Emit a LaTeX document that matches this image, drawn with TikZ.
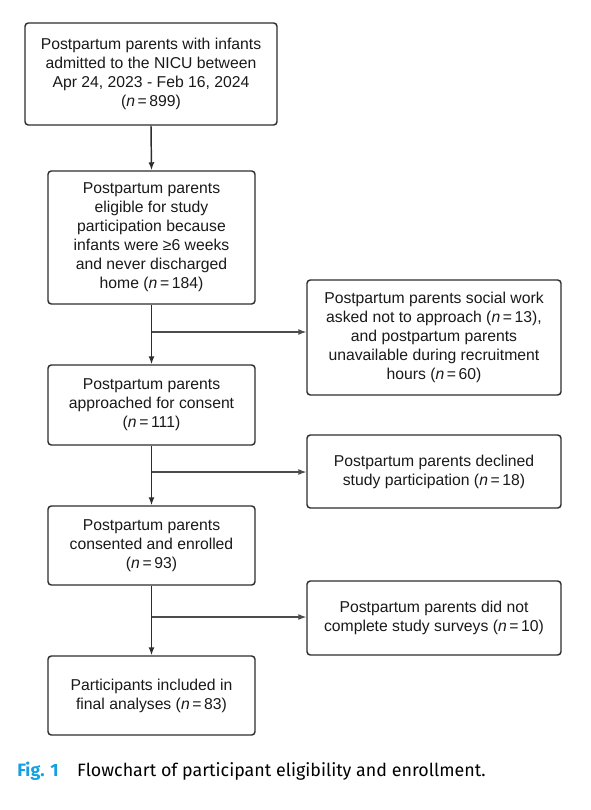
\documentclass[tikz,border=0pt]{standalone}
\usepackage{fontspec}
\setmainfont{Liberation Sans}
\newfontfamily\capfont{Fira Sans}
\usetikzlibrary{arrows.meta}
\definecolor{figblue}{RGB}{20,160,225}
\definecolor{boxline}{RGB}{45,45,45}
\definecolor{txt}{RGB}{25,25,25}
\begin{document}
\begin{tikzpicture}[x=0.75pt,y=-0.75pt,
  flowbox/.style={draw=boxline,line width=1.1pt,rounded corners=2.5pt,
    align=center,inner sep=0pt,text=txt,
    font=\fontsize{11.8pt}{14.25pt}\selectfont},
  mainbox/.style={flowbox,minimum width=155.25pt},
  sidebox/.style={flowbox,minimum width=190.5pt},
  conn/.style={draw=boxline,line width=1.1pt,-{Latex[length=6pt,width=4.5pt]}},
  sideconn/.style={draw=boxline!85,line width=0.8pt,-{Latex[length=6pt,width=4.5pt]}}]
\useasboundingbox (0,0) rectangle (590,810);

\node[flowbox,minimum width=189pt,minimum height=76.5pt] (b1) at (151,74)
  {Postpartum parents with infants\\admitted to the NICU between\\Apr 24, 2023 - Feb 16, 2024\\(\textit{n}\,=\,899)};
\node[mainbox,minimum height=99.75pt] (b2) at (151.5,237.5)
  {Postpartum parents\\eligible for study\\participation because\\infants were ≥6 weeks\\and never discharged\\home (\textit{n}\,=\,184)};
\node[mainbox,minimum height=60pt] (b3) at (151.5,405)
  {Postpartum parents\\approached for consent\\(\textit{n}\,=\,111)};
\node[mainbox,minimum height=59.25pt] (b4) at (151.5,545.5)
  {Postpartum parents\\consented and enrolled\\(\textit{n}\,=\,93)};
\node[mainbox,minimum height=59.25pt] (b5) at (151.5,695.5)
  {Participants included in\\final analyses (\textit{n}\,=\,83)};

\node[sidebox,minimum height=86.25pt] (sA) at (434,337.5)
  {Postpartum parents social work\\asked not to approach (\textit{n}\,=\,13),\\and postpartum parents\\unavailable during recruitment\\hours (\textit{n}\,=\,60)};
\node[sidebox,minimum height=54.75pt] (sB) at (434,471.5)
  {Postpartum parents declined\\study participation (\textit{n}\,=\,18)};
\node[sidebox,minimum height=55.5pt] (sC) at (434,618)
  {Postpartum parents did not\\complete study surveys (\textit{n}\,=\,10)};

\coordinate (jA) at (151.5,332);
\coordinate (jB) at (151.5,472);
\coordinate (jC) at (151.5,617);

\draw[conn] (b1.south) -- (b2.north);
\draw[conn] (b2.south) -- (b3.north);
\draw[conn] (b3.south) -- (b4.north);
\draw[conn] (b4.south) -- (b5.north);
\draw[sideconn] (jA) -- (jA -| sA.west);
\draw[sideconn] (jB) -- (jB -| sB.west);
\draw[sideconn] (jC) -- (jC -| sC.west);

\node[anchor=base west,inner sep=0pt,font=\capfont\fontsize{13.4pt}{16pt}\selectfont] (cap) at (17,776.5)
  {\textcolor{figblue}{\bfseries Fig. 1}\hspace{14pt}Flowchart of participant eligibility and enrollment.};
\end{tikzpicture}
\end{document}
